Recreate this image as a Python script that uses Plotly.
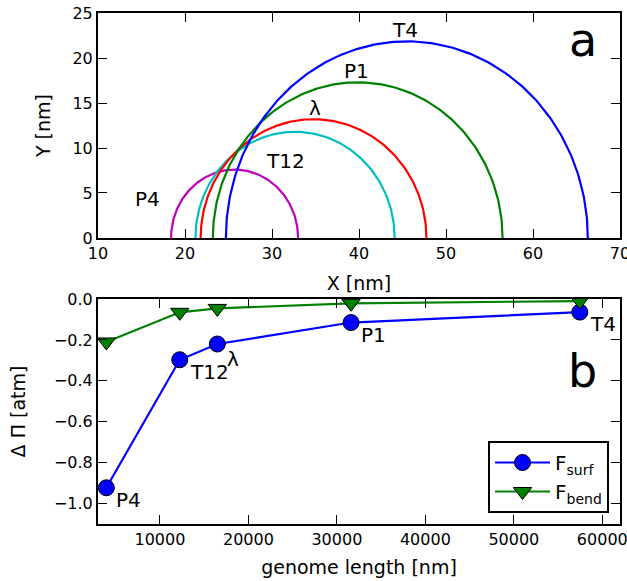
import numpy as np
import plotly.graph_objects as go

# ---------------- data ----------------
phages = ["P4", "T12", "λ", "P1", "T4"]
arc_colors = ["#bf00bf", "#00bfbf", "#ff0000", "#008000", "#0000ff"]
arc_left = [18.4, 21.2, 21.8, 23.2, 24.7]     # nm
arc_right = [33.0, 44.1, 47.75, 56.5, 66.3]   # nm
arc_height = [7.6, 11.8, 13.2, 17.3, 21.85]   # nm

top_label_x = [15.7, 31.5, 34.9, 39.7, 45.3]
top_label_y = [4.3, 8.6, 14.5, 18.6, 23.1]

genome_length = [3944, 12240, 16490, 31600, 57460]   # nm
f_surf = [-0.923, -0.297, -0.220, -0.115, -0.064]   # atm
f_bend = [-0.210, -0.065, -0.046, -0.021, -0.010]   # atm

x_ticks_top = [10, 20, 30, 40, 50, 60, 70]
y_ticks_top = [0, 5, 10, 15, 20, 25]
x_ticks_bot = [10000, 20000, 30000, 40000, 50000, 60000]
y_ticks_bot = [0.0, -0.2, -0.4, -0.6, -0.8, -1.0]

FONT = "DejaVu Sans"

fig = go.Figure()

# ---------------- panel a: arcs ----------------
theta = np.linspace(0, np.pi, 200)
for name, col, l, r, h in zip(phages, arc_colors, arc_left, arc_right, arc_height):
    cx = 0.5 * (l + r)
    a = 0.5 * (r - l)
    fig.add_trace(go.Scatter(
        x=cx + a * np.cos(theta), y=h * np.sin(theta),
        mode="lines", line=dict(color=col, width=2.2),
        showlegend=False, xaxis="x", yaxis="y", hoverinfo="skip"))

for name, lx, ly in zip(phages, top_label_x, top_label_y):
    fig.add_annotation(x=lx, y=ly, xref="x", yref="y", text=name,
                       showarrow=False, font=dict(size=20, color="black", family=FONT))
fig.add_annotation(x=65.8, y=22.0, xref="x", yref="y", text="a", showarrow=False,
                   font=dict(size=46, color="black", family=FONT))

# ---------------- panel b ----------------
fig.add_trace(go.Scatter(
    x=genome_length, y=f_surf, mode="lines+markers", name="F<sub>surf</sub>",
    line=dict(color="#0000ff", width=2.2),
    marker=dict(symbol="circle", size=16, color="#0000ff", line=dict(color="black", width=1)),
    xaxis="x2", yaxis="y2"))
fig.add_trace(go.Scatter(
    x=genome_length, y=f_bend, mode="lines+markers", name="F<sub>bend</sub>",
    line=dict(color="#008000", width=2.2),
    marker=dict(symbol="triangle-down", size=16, color="#008000", line=dict(color="black", width=1)),
    xaxis="x2", yaxis="y2"))

for i, (name, gx, gy) in enumerate(zip(phages, genome_length, f_surf)):
    fig.add_annotation(x=gx, y=gy, xref="x2", yref="y2", text=name, showarrow=False,
                       xanchor="left", yanchor="middle", xshift=8,
                       yshift=-15 if name == "λ" else -12,
                       font=dict(size=20, color="black", family=FONT))
fig.add_annotation(x=57750, y=-0.35, xref="x2", yref="y2", text="b", showarrow=False,
                   font=dict(size=46, color="black", family=FONT))

axis_common = dict(showline=True, linewidth=2, linecolor="black", mirror="ticks",
                   ticks="inside", ticklen=9, tickwidth=1, tickcolor="black",
                   showgrid=False, zeroline=False, automargin=False,
                   ticklabeloverflow="allow",
                   tickfont=dict(size=16, color="black", family=FONT))

fig.update_layout(
    width=627, height=581,
    margin=dict(l=98, r=7, t=13, b=57),
    paper_bgcolor="white", plot_bgcolor="white",
    font=dict(family=FONT, color="black"),
    xaxis=dict(domain=[0, 1], anchor="y", range=[10, 70], tickvals=x_ticks_top,
               title=dict(text="X [nm]", font=dict(size=19), standoff=15), **axis_common),
    yaxis=dict(domain=[0.5597, 1], anchor="x", range=[0, 25], tickvals=y_ticks_top,
               title=dict(text="Y [nm]", font=dict(size=19), standoff=17), **axis_common),
    xaxis2=dict(domain=[0, 1], anchor="y2", range=[3000, 62000], tickvals=x_ticks_bot,
                tickformat="d",
                title=dict(text="genome length [nm]", font=dict(size=19), standoff=12), **axis_common),
    yaxis2=dict(domain=[0, 0.4403], anchor="x2", range=[-1.1, 0], tickvals=y_ticks_bot,
                tickformat=".1f",
                title=dict(text="Δ Π [atm]", font=dict(size=19), standoff=23), **axis_common),
    legend=dict(x=0.979, y=0.0215, xanchor="right", yanchor="bottom",
                bordercolor="black", borderwidth=2, bgcolor="white",
                tracegroupgap=4, itemwidth=55,
                font=dict(size=20, color="black", family=FONT)),
    showlegend=True,
)

# remove the default 8 px page margin so the figure sits at the window's corner
fig.write_html("out.html", config={"displayModeBar": False},
               post_script="document.body.style.margin='0';")
